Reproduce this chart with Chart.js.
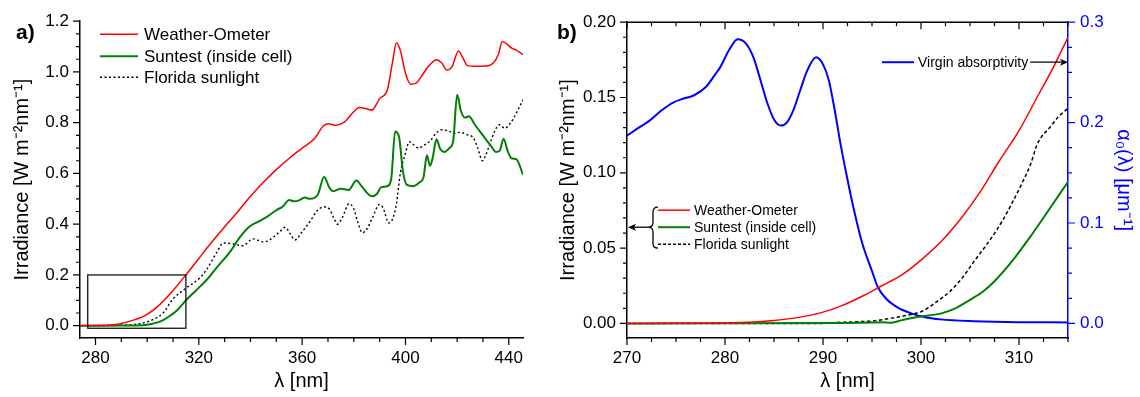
<!DOCTYPE html>
<html>
<head>
<meta charset="utf-8">
<script src="https://cdn.jsdelivr.net/npm/chart.js@4.4.1/dist/chart.umd.min.js"></script>
<style>
  html, body { margin: 0; padding: 0; background: #fff; }
  #wrap { position: relative; width: 1140px; height: 397px; overflow: hidden; }
  #pa { position: absolute; left: 0; top: 0; }
  #pb { position: absolute; left: 545px; top: 0; }
</style>
</head>
<body>
<div id="wrap">
  <canvas id="pa" width="545" height="397"></canvas>
  <canvas id="pb" width="595" height="397"></canvas>
</div>
<script>
// ---- panel a) : full UV range ----
const aWeatherNm = [274, 280, 285, 287, 290, 295, 300, 304, 309, 315, 320, 323, 330, 335, 340, 345, 350, 355, 360, 365, 368, 370, 373, 376, 380, 382, 384.5, 387, 390, 393, 395, 396.5, 398, 400, 402, 404, 407, 409, 412, 414, 416, 418, 420.5, 422, 424, 427, 431, 434, 436, 437.5, 439, 441, 443, 445.5];
const aWeatherIrr = [0, 0.001, 0.002, 0.004, 0.009, 0.023, 0.045, 0.075, 0.127, 0.2, 0.265, 0.304, 0.39, 0.448, 0.51, 0.565, 0.615, 0.66, 0.7, 0.74, 0.785, 0.796, 0.79, 0.8, 0.843, 0.86, 0.856, 0.85, 0.895, 0.93, 1.04, 1.115, 1.085, 0.995, 0.952, 0.955, 0.995, 1.023, 1.048, 1.036, 1.008, 1.02, 1.083, 1.06, 1.025, 1.022, 1.023, 1.035, 1.07, 1.12, 1.112, 1.095, 1.085, 1.068];

const aSuntestNm = [274, 290, 295, 300, 303, 306, 309, 311.5, 315, 319, 323, 327, 332, 336, 339.5, 343, 346.5, 350, 352.5, 355, 357, 359, 361, 363, 366, 368.5, 370.5, 372, 375, 378, 381, 383, 385, 387, 389, 390.5, 393, 394.5, 396, 397.5, 399, 400.5, 403, 405.5, 407, 408.3, 409.5, 410.5, 412, 413.5, 415, 417, 418.5, 420, 421.5, 423, 424.5, 427, 430, 433, 435, 436.5, 438, 439.5, 441, 443, 445.5];
const aSuntestIrr = [0, 0.0005, 0.001, 0.004, 0.01, 0.021, 0.04, 0.06, 0.1, 0.14, 0.18, 0.23, 0.29, 0.35, 0.39, 0.41, 0.43, 0.455, 0.47, 0.495, 0.49, 0.495, 0.505, 0.5, 0.515, 0.587, 0.545, 0.53, 0.54, 0.535, 0.572, 0.55, 0.525, 0.51, 0.52, 0.545, 0.55, 0.58, 0.765, 0.745, 0.61, 0.555, 0.55, 0.565, 0.585, 0.672, 0.63, 0.66, 0.735, 0.695, 0.685, 0.7, 0.73, 0.91, 0.845, 0.82, 0.825, 0.79, 0.75, 0.71, 0.685, 0.69, 0.737, 0.69, 0.66, 0.655, 0.595];

const aFloridaNm = [274, 290, 295, 300, 303, 306, 310, 315, 320.5, 323, 327, 329.5, 333, 337, 341, 345, 347.6, 351.4, 353.4, 355.5, 357.2, 360, 363, 366, 368.5, 370.5, 372, 373.7, 375.5, 378.2, 380, 381.5, 383.3, 385, 387, 390, 391.5, 393.5, 395, 396.5, 398, 400, 401.5, 403, 405, 407, 409.5, 412, 414, 416.5, 419, 421, 424, 426.3, 428, 429.8, 431, 432.6, 434.5, 436.3, 438.5, 440, 442, 443.5, 445.5];
const aFloridaIrr = [0, 0.002, 0.005, 0.015, 0.028, 0.048, 0.105, 0.148, 0.189, 0.221, 0.29, 0.326, 0.323, 0.315, 0.342, 0.33, 0.34, 0.371, 0.388, 0.36, 0.338, 0.37, 0.41, 0.455, 0.468, 0.46, 0.43, 0.4, 0.425, 0.481, 0.46, 0.41, 0.366, 0.38, 0.42, 0.478, 0.46, 0.405, 0.42, 0.48, 0.6, 0.68, 0.725, 0.715, 0.7, 0.71, 0.728, 0.76, 0.772, 0.768, 0.758, 0.762, 0.752, 0.74, 0.7, 0.65, 0.67, 0.715, 0.765, 0.792, 0.778, 0.79, 0.82, 0.85, 0.89];

// ---- panel b) : short-wave detail ----
const bWeatherNm = [270, 275, 280, 283, 285, 287.5, 290, 292, 294, 296, 298, 300, 302, 304, 306, 308, 310, 312, 313.5, 315];
const bWeatherIrr = [0, 0.00005, 0.0003, 0.001, 0.002, 0.004, 0.0075, 0.012, 0.018, 0.025, 0.032, 0.042, 0.054, 0.069, 0.087, 0.108, 0.128, 0.152, 0.17, 0.19];

const bSuntestNm = [270, 292, 294, 296, 297, 298, 299.6, 302, 303.5, 305.1, 306.3, 307.5, 309.5, 311.2, 313, 315];
const bSuntestIrr = [0, 0.0003, 0.0004, 0.0008, 0.0005, 0.002, 0.0043, 0.0065, 0.01, 0.016, 0.021, 0.028, 0.043, 0.058, 0.075, 0.094];

const bFloridaNm = [270, 290, 291, 293, 295.2, 297, 298.6, 300.3, 301.5, 303, 304.3, 305.4, 307.1, 308.2, 309.3, 310.3, 311.2, 311.8, 312.3, 313, 314, 315];
const bFloridaIrr = [0, 0, 0.0005, 0.001, 0.0017, 0.0035, 0.0054, 0.0086, 0.014, 0.0215, 0.031, 0.041, 0.056, 0.067, 0.08, 0.093, 0.106, 0.118, 0.124, 0.129, 0.137, 0.143];

const bVirginNm = [270, 271.2, 272.3, 273.5, 274.7, 275.8, 276.8, 278.1, 279, 279.5, 280.4, 281.3, 282.2, 282.9, 283.6, 284.3, 285, 285.7, 286.3, 287, 287.7, 288.4, 289.3, 290, 290.6, 291.2, 291.8, 292.4, 293, 294, 295, 295.6, 296.5, 297.6, 299, 300.3, 302, 305.4, 310, 315];
const bVirginAbs = [0.187, 0.195, 0.202, 0.212, 0.22, 0.224, 0.227, 0.236, 0.248, 0.255, 0.272, 0.283, 0.278, 0.265, 0.243, 0.22, 0.203, 0.197, 0.2, 0.213, 0.233, 0.252, 0.265, 0.258, 0.242, 0.212, 0.178, 0.148, 0.12, 0.08, 0.052, 0.036, 0.024, 0.016, 0.01, 0.0064, 0.004, 0.0022, 0.0012, 0.001];

const seriesNames = ["Weather-Ometer", "Suntest (inside cell)", "Florida sunlight", "Virgin absorptivity"];

const FONT = "'Liberation Sans', Arial, Helvetica, sans-serif";
Chart.defaults.font.family = FONT;
Chart.defaults.color = "#000";

const zip = (xs, ys) => xs.map((x, i) => ({ x: x, y: ys[i] }));

function arrowHead(ctx, x, y, dir) {
  ctx.beginPath();
  ctx.moveTo(x, y);
  ctx.lineTo(x - dir * 8, y - 3.5);
  ctx.lineTo(x - dir * 6, y);
  ctx.lineTo(x - dir * 8, y + 3.5);
  ctx.closePath();
  ctx.fill();
}

// tick marks, legends, frame bits and arrows
const decorations = {
  id: "decorations",
  afterDraw(chart, args, o) {
    const ctx = chart.ctx;
    const area = chart.chartArea;
    ctx.save();

    if (o.topLine) {
      ctx.strokeStyle = "#000";
      ctx.lineWidth = 1.5;
      ctx.beginPath();
      ctx.moveTo(area.left, area.top);
      ctx.lineTo(area.right, area.top);
      ctx.stroke();
    }

    (o.ticks || []).forEach(t => {
      const s = chart.scales[t.axis];
      ctx.strokeStyle = t.color || "#000";
      ctx.lineWidth = 1.2;
      ctx.beginPath();
      for (let k = 0; k < 500; k++) {
        const v = t.from + k * t.step;
        if (v > s.max + 1e-9) break;
        if (v < s.min - 1e-9) continue;
        const r = v / t.major;
        const len = Math.abs(r - Math.round(r)) < 1e-6 ? 7 : 4;
        const p = s.getPixelForValue(v);
        if (t.side === "left") { ctx.moveTo(area.left, p); ctx.lineTo(area.left - len, p); }
        if (t.side === "right") { ctx.moveTo(area.right, p); ctx.lineTo(area.right + len, p); }
        if (t.side === "bottom") { ctx.moveTo(p, area.bottom); ctx.lineTo(p, area.bottom + len); }
        if (t.side === "top") { ctx.moveTo(p, area.top); ctx.lineTo(p, area.top + len); }
      }
      ctx.stroke();
    });

    if (o.box) {
      const xs = chart.scales.x, ys = chart.scales.y;
      const x0 = xs.getPixelForValue(o.box.x0), x1 = xs.getPixelForValue(o.box.x1);
      const y0 = ys.getPixelForValue(o.box.y0), y1 = ys.getPixelForValue(o.box.y1);
      ctx.strokeStyle = "#000";
      ctx.lineWidth = 1.2;
      ctx.strokeRect(x0, y1, x1 - x0, y0 - y1);
    }

    (o.legend || []).forEach(it => {
      const ds = chart.data.datasets[it.ds];
      const x = area.left + it.x, y = area.top + it.y;
      ctx.strokeStyle = ds.borderColor;
      ctx.lineWidth = ds.borderWidth;
      ctx.setLineDash(it.dash || ds.borderDash || []);
      ctx.beginPath();
      ctx.moveTo(x, y);
      ctx.lineTo(x + it.len, y);
      ctx.stroke();
      ctx.setLineDash([]);
      ctx.fillStyle = "#000";
      ctx.font = it.font;
      ctx.textBaseline = "middle";
      ctx.textAlign = "left";
      ctx.fillText(ds.label, x + it.len + it.gap, y + 1);
      if (it.arrowTo === "right") {
        const tx = x + it.len + it.gap + ctx.measureText(ds.label).width + 2;
        ctx.strokeStyle = "#000";
        ctx.fillStyle = "#000";
        ctx.lineWidth = 1.3;
        ctx.beginPath();
        ctx.moveTo(tx, y);
        ctx.lineTo(area.right - 2, y);
        ctx.stroke();
        arrowHead(ctx, area.right, y, 1);
      }
    });

    if (o.brace) {
      const b = o.brace;
      const xl = area.left + b.x, xr = area.left + b.x + 10;
      const xm = (xl + xr) / 2;
      const yt = area.top + b.top, yb = area.top + b.bottom, yc = area.top + b.mid;
      ctx.strokeStyle = "#000";
      ctx.lineWidth = 1.3;
      ctx.beginPath();
      ctx.moveTo(xr, yt);
      ctx.quadraticCurveTo(xm, yt, xm, yt + 5);
      ctx.lineTo(xm, yc - 5);
      ctx.quadraticCurveTo(xm, yc, xl, yc);
      ctx.quadraticCurveTo(xm, yc, xm, yc + 5);
      ctx.lineTo(xm, yb - 5);
      ctx.quadraticCurveTo(xm, yb, xr, yb);
      ctx.stroke();
      ctx.fillStyle = "#000";
      ctx.beginPath();
      ctx.moveTo(xl, yc);
      ctx.lineTo(area.left + 4, yc);
      ctx.stroke();
      arrowHead(ctx, area.left + 1, yc, -1);
    }

    if (o.panel) {
      ctx.fillStyle = "#000";
      ctx.font = "bold 21px " + FONT;
      ctx.textBaseline = "middle";
      ctx.textAlign = "left";
      ctx.fillText(o.panel.text, o.panel.x, o.panel.y);
    }
    ctx.restore();
  }
};

const titleFont = { size: 20, family: FONT };
const tickFont = { size: 17, family: FONT };

// ---------- panel a ----------
new Chart(document.getElementById("pa"), {
  type: "line",
  data: {
    datasets: [
      { label: seriesNames[0], data: zip(aWeatherNm, aWeatherIrr), borderColor: "#ff0000", borderWidth: 1.5 },
      { label: seriesNames[1], data: zip(aSuntestNm, aSuntestIrr), borderColor: "#008000", borderWidth: 2 },
      { label: seriesNames[2], data: zip(aFloridaNm, aFloridaIrr), borderColor: "#000000", borderWidth: 1.4, borderDash: [2, 2.5] }
    ]
  },
  options: {
    responsive: false,
    animation: false,
    events: [],
    layout: { padding: { left: 0, right: 22, top: 14, bottom: 0 } },
    elements: { point: { radius: 0 }, line: { cubicInterpolationMode: "monotone", fill: false } },
    plugins: {
      legend: { display: false },
      tooltip: { enabled: false },
      decorations: {
        ticks: [
          { axis: "x", side: "bottom", from: 280, step: 10, major: 40 },
          { axis: "y", side: "left", from: 0, step: 0.05, major: 0.2 }
        ],
        box: { x0: 277, x1: 315, y0: -0.01, y1: 0.2 },
        legend: [
          { ds: 0, x: 20, y: 13, len: 38, gap: 6, font: "17px " + FONT },
          { ds: 1, x: 20, y: 35, len: 38, gap: 6, font: "17px " + FONT },
          { ds: 2, x: 20, y: 56, len: 38, gap: 6, font: "17px " + FONT }
        ],
        panel: { text: "a)", x: 16, y: 33 }
      }
    },
    scales: {
      x: {
        type: "linear",
        min: 274,
        max: 445.5,
        grid: { display: false, drawTicks: false },
        border: { display: true, color: "#000", width: 1.5 },
        ticks: { stepSize: 40, includeBounds: false, font: tickFont, padding: 10, maxRotation: 0 },
        title: { display: true, text: "λ [nm]", font: titleFont, padding: { top: 0, bottom: 4 } },
        afterFit(scale) { scale.height = 59; }
      },
      y: {
        min: -0.0485,
        max: 1.2,
        grid: { display: false, drawTicks: false },
        border: { display: true, color: "#000", width: 1.5 },
        ticks: { stepSize: 0.2, includeBounds: false, font: tickFont, padding: 11,
          callback: v => Number(v).toFixed(1) },
        title: { display: true, text: "Irradiance [W m⁻²nm⁻¹]", font: titleFont, padding: { top: 10, bottom: 0 } },
        afterFit(scale) { scale.width = 80; }
      }
    }
  },
  plugins: [decorations]
});

// ---------- panel b ----------
new Chart(document.getElementById("pb"), {
  type: "line",
  data: {
    datasets: [
      { label: seriesNames[0], data: zip(bWeatherNm, bWeatherIrr), borderColor: "#ff0000", borderWidth: 1.5, yAxisID: "y" },
      { label: seriesNames[1], data: zip(bSuntestNm, bSuntestIrr), borderColor: "#008000", borderWidth: 2, yAxisID: "y" },
      { label: seriesNames[2], data: zip(bFloridaNm, bFloridaIrr), borderColor: "#000000", borderWidth: 1.5, borderDash: [3.5, 2.5], yAxisID: "y" },
      { label: seriesNames[3], data: zip(bVirginNm, bVirginAbs), borderColor: "#0000ff", borderWidth: 2, yAxisID: "y2" }
    ]
  },
  options: {
    responsive: false,
    animation: false,
    events: [],
    layout: { padding: { left: 0, right: 0, top: 14, bottom: 0 } },
    elements: { point: { radius: 0 }, line: { cubicInterpolationMode: "monotone", fill: false } },
    plugins: {
      legend: { display: false },
      tooltip: { enabled: false },
      decorations: {
        topLine: true,
        ticks: [
          { axis: "x", side: "bottom", from: 270, step: 2.5, major: 10 },
          { axis: "x", side: "top", from: 270, step: 2.5, major: 10 },
          { axis: "y", side: "left", from: 0, step: 0.01, major: 0.05 },
          { axis: "y2", side: "right", from: 0, step: 0.025, major: 0.1, color: "#0000ff" }
        ],
        legend: [
          { ds: 0, x: 31, y: 188, len: 32, gap: 4, font: "14px " + FONT },
          { ds: 1, x: 31, y: 205, len: 32, gap: 4, font: "14px " + FONT },
          { ds: 2, x: 31, y: 222, len: 32, gap: 4, font: "14px " + FONT, dash: [3, 2] },
          { ds: 3, x: 255, y: 40, len: 32, gap: 4, font: "14px " + FONT, arrowTo: "right" }
        ],
        brace: { x: 21, top: 185, mid: 205, bottom: 226 },
        panel: { text: "b)", x: 12, y: 33 }
      }
    },
    scales: {
      x: {
        type: "linear",
        min: 270,
        max: 315,
        grid: { display: false, drawTicks: false },
        border: { display: true, color: "#000", width: 1.5 },
        ticks: { stepSize: 10, includeBounds: false, font: tickFont, padding: 10, maxRotation: 0 },
        title: { display: true, text: "λ [nm]", font: titleFont, padding: { top: 0, bottom: 4 } },
        afterFit(scale) { scale.height = 59; }
      },
      y: {
        position: "left",
        min: -0.0097,
        max: 0.2,
        grid: { display: false, drawTicks: false },
        border: { display: true, color: "#000", width: 1.5 },
        ticks: { stepSize: 0.05, includeBounds: false, font: tickFont, padding: 11,
          callback: v => Number(v).toFixed(2) },
        title: { display: true, text: "Irradiance [W m⁻²nm⁻¹]", font: titleFont, padding: { top: 11, bottom: 0 } },
        afterFit(scale) { scale.width = 82; }
      },
      y2: {
        position: "right",
        min: -0.01455,
        max: 0.3,
        grid: { display: false, drawTicks: false },
        border: { display: true, color: "#0000ff", width: 1.5 },
        ticks: { stepSize: 0.1, includeBounds: false, font: tickFont, padding: 12, color: "#0000ff",
          callback: v => Number(v).toFixed(1) },
        title: { display: true, text: "α₀(λ) [μm⁻¹]", color: "#0000ff", font: titleFont, padding: { top: 4, bottom: 0 } },
        afterFit(scale) { scale.width = 72; }
      }
    }
  },
  plugins: [decorations]
});
</script>
</body>
</html>
